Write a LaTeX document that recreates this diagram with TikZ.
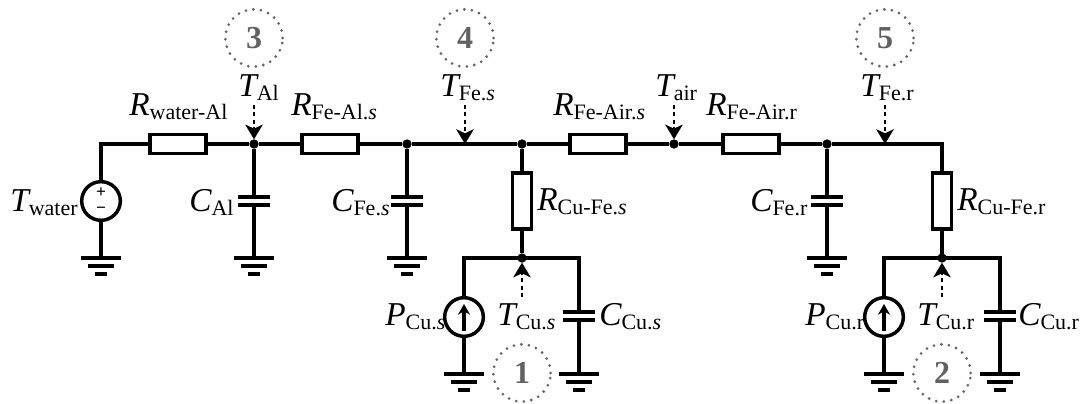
\documentclass[tikz,border=0pt]{standalone}
\usepackage{fontspec}
\setmainfont{Liberation Serif}
\usetikzlibrary{arrows.meta}
\newcommand{\lab}[2]{{\fontsize{25}{25}\selectfont\itshape #1}\raisebox{-3.5pt}{\fontsize{16.5}{16.5}\selectfont #2}}
\tikzset{
  wire/.style={line width=2.3pt},
  resbox/.style={draw, line width=2.3pt, fill=white, rectangle, minimum width=42pt, minimum height=14pt, inner sep=0pt, outer sep=0pt},
  dot/.style={circle, fill=black, minimum size=7pt, inner sep=0pt, outer sep=0pt},
  src/.style={draw, circle, line width=2.6pt, fill=white, minimum size=29pt, inner sep=0pt, outer sep=0pt},
  probe/.style={line width=2.2pt, dash pattern=on 3pt off 2.6pt, -{Stealth[length=11pt,width=13pt,inset=3pt]}},
  tag/.style={draw=black!60, circle, line width=2.3pt, line cap=round, dash pattern=on 0pt off 5.7pt, text=black!62, minimum size=43pt, inner sep=0pt, font=\fontsize{24}{24}\selectfont\bfseries},
  lbl/.style={anchor=base west, inner sep=0pt},
  gnd/.pic={
    \draw[wire] (-20,0) -- (20,0);
    \draw[wire] (-13,8) -- (13,8);
    \draw[wire] (-6,16) -- (6,16);
  }
}
\begin{document}
\begin{tikzpicture}[x=0.75pt,y=-0.75pt]
\useasboundingbox (0,0) rectangle (1080,403);
% main line
\coordinate (corner) at (101,144);
\coordinate (probeFes) at (465,144);
\coordinate (cornerR) at (942,144);
\node[dot] (nAl) at (254,144) {};
\node[dot] (nFes) at (407,144) {};
\node[dot] (nCus) at (522,144) {};
\node[dot] (nAir) at (674,144) {};
\node[dot] (nFer) at (827,144) {};
\node[dot] (jCus) at (522,258) {};
\node[dot] (jCur) at (942,258) {};
\draw[wire] (corner) -- (nAl) -- (nFes) -- (nCus) -- (nAir) -- (nFer) -- (cornerR);
\node[resbox] (Rwater) at (178,144) {};
\node[resbox] (RFeAls) at (330,144) {};
\node[resbox] (RFeAirs) at (598,144) {};
\node[resbox] (RFeAirr) at (751,144) {};
% sources
\coordinate (gWater) at (101,258);
\coordinate (gPs) at (464,374);
\coordinate (gPr) at (884,374);
\coordinate (topPs) at (464,258);
\coordinate (topPr) at (884,258);
\coordinate (topCs) at (579,258);
\coordinate (topCr) at (1000,258);
\draw[wire, line cap=rect] (corner) -- (gWater);
\draw[wire, line cap=rect] (topPs) -- (jCus) -- (topCs);
\draw[wire, line cap=rect] (topPr) -- (jCur) -- (topCr);
\draw[wire] (topPs) -- (gPs);
\draw[wire] (topPr) -- (gPr);
\draw[wire] (nCus) -- (jCus);
\draw[wire, line cap=rect] (cornerR) -- (jCur);
\node[resbox, minimum width=14pt, minimum height=42pt] (RCuFes) at (522,201) {};
\node[resbox, minimum width=14pt, minimum height=42pt] (RCuFer) at (942,201) {};
\node[src] (Twater) at (101,201) {};
\node[src] (Ps) at (464,317) {};
\node[src] (Pr) at (884,317) {};
\node[inner sep=0pt, font=\bfseries\fontsize{13}{13}\selectfont] (plus) at (101,193) {+};
\node[inner sep=0pt, font=\bfseries\fontsize{13}{13}\selectfont] (minus) at (101,210) {\textminus};
\draw[wire, -{Stealth[length=8pt,width=9pt]}] (464,331) -- (464,304);
\draw[wire, -{Stealth[length=8pt,width=9pt]}] (884,331) -- (884,304);
% capacitors
\foreach \nm/\top/\xx/\ya/\yb/\yg in {Al/nAl/254/197/205/258, Fes/nFes/407/197/205/258, Fer/nFer/827/197/205/258, Cus/topCs/579/312/320/374, Cur/topCr/1000/312/320/374}{
  \coordinate (pa\nm) at (\xx,\ya);
  \coordinate (pb\nm) at (\xx,\yb);
  \coordinate (g\nm) at (\xx,\yg);
  \draw[wire] (\top) -- (pa\nm);
  \draw[wire] (pb\nm) -- (g\nm);
  \draw[wire] (\xx-16,\ya) -- (\xx+16,\ya);
  \draw[wire] (\xx-16,\yb) -- (\xx+16,\yb);
  \pic at (g\nm) {gnd};
}
\pic at (gWater) {gnd};
\pic at (gPs) {gnd};
\pic at (gPr) {gnd};
% temperature probes
\coordinate (pAl) at (254,105);
\coordinate (pFes) at (465,105);
\coordinate (pAir) at (674,105);
\coordinate (pFer) at (885,105);
\coordinate (probeFer) at (885,144);
\coordinate (pCus) at (522,297);
\coordinate (pCur) at (942,297);
\draw[probe] (pAl) -- (nAl);
\draw[probe] (pFes) -- (probeFes);
\draw[probe] (pAir) -- (nAir);
\draw[probe] (pFer) -- (probeFer);
\draw[probe] (pCus) -- (jCus);
\draw[probe] (pCur) -- (jCur);
%%%%
\node[tag] (tagThree) at (254,38) {3};
\node[tag] (tagFour) at (465,38) {4};
\node[tag] (tagFive) at (885,38) {5};
\node[tag] (tagOne) at (522,373) {1};
\node[tag] (tagTwo) at (942,373) {2};
%%%%
\node[lbl] (lRwater) at (129,115) {\lab{R}{water-Al}};
\node[lbl] (lRFeAls) at (291,115) {\lab{R}{Fe-Al.\textit{s}}};
\node[lbl] (lRFeAirs) at (553,115) {\lab{R}{Fe-Air.\textit{s}}};
\node[lbl] (lRFeAirr) at (706,115) {\lab{R}{Fe-Air.r}};
\node[lbl] (lTAl) at (238,96) {\lab{T}{Al}};
\node[lbl] (lTFes) at (440,96) {\lab{T}{Fe.\textit{s}}};
\node[lbl] (lTair) at (655,96) {\lab{T}{air}};
\node[lbl] (lTFer) at (860,96) {\lab{T}{Fe.r}};
\node[lbl] (lTwater) at (10,211) {\lab{T}{water}};
\node[lbl] (lCAl) at (189,211) {\lab{C}{Al}};
\node[lbl] (lCFes) at (331,211) {\lab{C}{Fe.\textit{s}}};
\node[lbl] (lCFer) at (750,211) {\lab{C}{Fe.r}};
\node[lbl] (lRCuFes) at (537,210) {\lab{R}{Cu-Fe.\textit{s}}};
\node[lbl] (lRCuFer) at (957,210) {\lab{R}{Cu-Fe.r}};
\node[lbl] (lPs) at (385,325) {\lab{P}{Cu.\textit{s}}};
\node[lbl] (lPr) at (805,325) {\lab{P}{Cu.r}};
\node[lbl] (lTCus) at (497,325) {\lab{T}{Cu.\textit{s}}};
\node[lbl] (lTCur) at (917,325) {\lab{T}{Cu.r}};
\node[lbl] (lCCus) at (599,325) {\lab{C}{Cu.\textit{s}}};
\node[lbl] (lCCur) at (1018,325) {\lab{C}{Cu.r}};
\end{tikzpicture}
\end{document}
